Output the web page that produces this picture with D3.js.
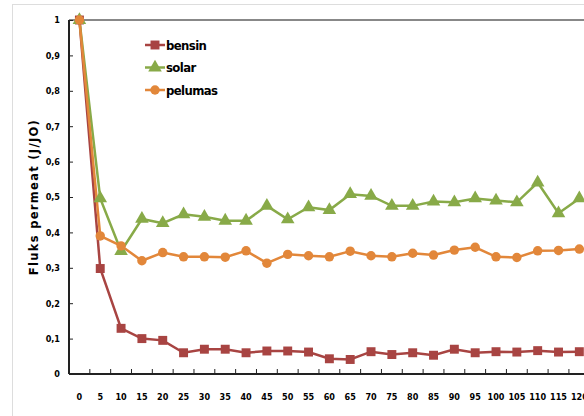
<!DOCTYPE html>
<html><head><meta charset="utf-8">
<script src="https://cdn.jsdelivr.net/npm/d3@7"></script>
<style>body{margin:0;background:#fff}svg{display:block}</style>
</head><body>
<svg id="c" width="584" height="416"></svg>
<script>
const categories = [0,5,10,15,20,25,30,35,40,45,50,55,60,65,70,75,80,85,90,95,100,105,110,115,120];
const bensin  = [1.0,0.298,0.129,0.100,0.095,0.060,0.070,0.070,0.060,0.065,0.065,0.062,0.043,0.041,0.063,0.055,0.060,0.053,0.070,0.060,0.063,0.062,0.066,0.062,0.063];
const solar   = [1.0,0.496,0.347,0.438,0.426,0.451,0.444,0.433,0.433,0.475,0.437,0.471,0.463,0.508,0.503,0.475,0.475,0.487,0.485,0.496,0.490,0.485,0.541,0.454,0.496];
const pelumas = [1.0,0.390,0.362,0.320,0.343,0.331,0.331,0.330,0.348,0.313,0.338,0.334,0.331,0.347,0.334,0.331,0.341,0.336,0.350,0.358,0.331,0.329,0.348,0.349,0.353];
const yTicks = [0,0.1,0.2,0.3,0.4,0.5,0.6,0.7,0.8,0.9,1];
const seriesNames = ["bensin","solar","pelumas"];
const colors = ["#A84442","#88AA48","#E2873A"];
const symbols = [d3.symbolSquare, d3.symbolTriangle, d3.symbolCircle];
const symSizes = [80, 80, 70];

const svg = d3.select("#c");
const font = "'Liberation Sans Narrow','DejaVu Sans Condensed',Arial,sans-serif";

// outer frame
svg.append("line").attr("x1",12).attr("x2",584).attr("y1",4.5).attr("y2",4.5).attr("stroke","#ddd");
svg.append("line").attr("x1",12.5).attr("x2",12.5).attr("y1",4).attr("y2",416).attr("stroke","#ddd");

const pLeft = 69, pTop = 20, pBottom = 374;
const x = d3.scaleBand().domain(categories).range([pLeft, pLeft + 25*20.83]);
const y = d3.scaleLinear().domain([0,1]).range([pBottom, pTop]);

// top border
svg.append("line").attr("x1",pLeft).attr("x2",584).attr("y1",pTop).attr("y2",pTop).attr("stroke","#888").attr("stroke-width",2);

// x axis
const xa = svg.append("g").attr("transform",`translate(0,${pBottom})`)
  .call(d3.axisBottom(x).tickSize(0).tickPadding(0));
xa.select(".domain").remove();
xa.append("line").attr("x1",pLeft).attr("x2",584).attr("stroke","#222").attr("stroke-width",2);
xa.selectAll(".bt").data(categories.slice(1)).enter().append("line")
  .attr("x1",d=>x(d)).attr("x2",d=>x(d)).attr("y1",0).attr("y2",-5).attr("stroke","#222");
xa.selectAll(".tick text").attr("y",20).attr("font-family",font).attr("font-weight","bold").attr("font-size",9).attr("fill","#000");

// y axis
const ya = svg.append("g").attr("transform",`translate(${pLeft},0)`)
  .call(d3.axisLeft(y).tickValues(yTicks).tickSize(0).tickFormat(d=>d===0?"0":d===1?"1":d3.format(".1f")(d).replace(".",",")));
ya.select(".domain").remove();
ya.append("line").attr("y1",pTop).attr("y2",pBottom).attr("stroke","#222").attr("stroke-width",2);
ya.selectAll(".tick").append("line").attr("x1",0).attr("x2",4).attr("stroke","#222");
ya.selectAll(".tick text").attr("x",-9).attr("font-family",font).attr("font-weight","bold").attr("font-size",9).attr("fill","#000");

// y title
svg.append("text").attr("transform","translate(38,197) rotate(-90)").attr("text-anchor","middle")
  .attr("font-family","'DejaVu Sans',sans-serif").attr("font-weight","600").attr("font-size",11.5).attr("letter-spacing",1.3).attr("fill","#000")
  .text("Fluks permeat  (J/JO)");

const data = [bensin, solar, pelumas];
const line = d3.line().x((d,i)=>x(categories[i])+x.bandwidth()/2).y(d=>y(d));
data.forEach((vals,k)=>{
  svg.append("path").datum(vals).attr("d",line).attr("fill","none").attr("stroke",colors[k]).attr("stroke-width",2.5);
});
data.forEach((vals,k)=>{
  svg.selectAll(".m"+k).data(vals).enter().append("path")
    .attr("d",d3.symbol().type(symbols[k]).size(symSizes[k]))
    .attr("transform",(d,i)=>`translate(${x(categories[i])+x.bandwidth()/2},${y(d)})`)
    .attr("fill",colors[k]);
});

// legend
const lg = svg.append("g");
seriesNames.forEach((n,k)=>{
  const yy = 45 + k*22.5;
  lg.append("line").attr("x1",145).attr("x2",165).attr("y1",yy).attr("y2",yy).attr("stroke",colors[k]).attr("stroke-width",2.5);
  lg.append("path").attr("d",d3.symbol().type(symbols[k]).size(symSizes[k])).attr("transform",`translate(155,${yy})`).attr("fill",colors[k]);
  lg.append("text").attr("x",166).attr("y",yy+4.5).attr("font-family",font).attr("font-weight","bold").attr("font-size",13).attr("letter-spacing",-0.6).attr("fill","#000").text(n);
});
</script>
</body></html>
